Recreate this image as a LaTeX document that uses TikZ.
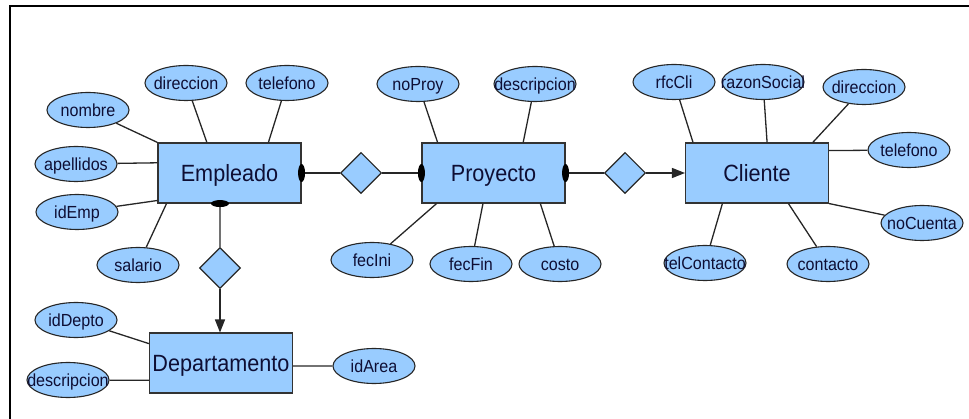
\documentclass[tikz,border=0pt]{standalone}
\usepackage{fontspec}
\setmainfont{Liberation Sans}[FakeStretch=0.92]
\usetikzlibrary{shapes.geometric,arrows.meta,calc}
\definecolor{erfill}{RGB}{153,204,255}
\definecolor{ertext}{RGB}{14,14,52}
\newcommand{\atxt}[1]{\makebox[0pt]{#1}}
\tikzset{
  entity/.style={draw=black!80, line width=1.1pt, fill=erfill, minimum width=143pt,
    minimum height=60pt, inner sep=0pt, text=ertext, font=\fontsize{23.5}{26}\selectfont,
    text height=17pt, text depth=0pt},
  attrib/.style={ellipse, draw=black!85, line width=1.1pt, fill=erfill, minimum width=82pt,
    minimum height=35pt, inner sep=0pt, text=ertext, font=\fontsize{17.5}{20}\selectfont,
    text height=12.5pt, text depth=0pt},
  relation/.style={diamond, draw=black!85, line width=1.1pt, fill=erfill, minimum width=41pt,
    minimum height=41pt, inner sep=0pt, aspect=1},
  link/.style={draw=black!85, line width=1.3pt},
  arrowlink/.style={link, -{Triangle[length=13pt,width=10pt]}},
  marker/.style={fill=black}
}
\begin{document}
\begin{tikzpicture}[x=1pt,y=-1pt]
\useasboundingbox (0,0) rectangle (969,419);
% outer frame (top and left edges)
\draw[line width=2pt] (969,6.5) -- (9.5,6.5) -- (9.5,419);

% entities
\node[entity] (emp) at (229.5,173) {Empleado};
\node[entity] (proj) at (493.5,173) {Proyecto};
\node[entity] (cli) at (757,173) {Cliente};
\node[entity] (dep) at (221,363) {Departamento};

% relationships
\node[relation] (r1) at (361,173) {};
\node[relation] (r2) at (625,173) {};
\node[relation] (r3) at (220,268) {};

% attributes of Empleado
\node[attrib] (eDir) at (186,83) {\atxt{direccion}};
\node[attrib] (eTel) at (287,83) {\atxt{telefono}};
\node[attrib] (eNom) at (88,110) {\atxt{nombre}};
\node[attrib] (eApe) at (76,164) {\atxt{apellidos}};
\node[attrib] (eId) at (77,212) {\atxt{idEmp}};
\node[attrib] (eSal) at (138,265) {\atxt{salario}};

% attributes of Proyecto
\node[attrib] (pNo) at (418,84) {\atxt{noProy}};
\node[attrib] (pDesc) at (535,84) {\atxt{descripcion}};
\node[attrib] (pIni) at (372,260) {\atxt{fecIni}};
\node[attrib] (pFin) at (471,264) {\atxt{fecFin}};
\node[attrib] (pCos) at (560,264) {\atxt{costo}};

% attributes of Cliente
\node[attrib] (cRfc) at (674,82) {\atxt{rfcCli}};
\node[attrib] (cRaz) at (763,82) {\atxt{razonSocial}};
\node[attrib] (cDir) at (864,87) {\atxt{direccion}};
\node[attrib] (cTel) at (909,150) {\atxt{telefono}};
\node[attrib] (cCta) at (922,223) {\atxt{noCuenta}};
\node[attrib] (cTc) at (705,263) {\atxt{telContacto}};
\node[attrib] (cCon) at (828,264) {\atxt{contacto}};

% attributes of Departamento
\node[attrib] (dId) at (76,320) {\atxt{idDepto}};
\node[attrib] (dDesc) at (68,380) {\atxt{descripcion}};
\node[attrib] (dArea) at (374,366) {\atxt{idArea}};

% attribute links: Empleado
\draw[link] (eNom) -- (emp.north west);
\draw[link] (eDir) -- ($(emp.north west)!0.343!(emp.north east)$);
\draw[link] (eTel) -- ($(emp.north west)!0.77!(emp.north east)$);
\draw[link] (eApe) -- ($(emp.north west)!0.333!(emp.south west)$);
\draw[link] (eId) -- ($(emp.north west)!0.95!(emp.south west)$);
\draw[link] (eSal) -- ($(emp.south west)!0.063!(emp.south east)$);

% attribute links: Proyecto
\draw[link] (pNo) -- ($(proj.north west)!0.112!(proj.north east)$);
\draw[link] (pDesc) -- ($(proj.north west)!0.706!(proj.north east)$);
\draw[link] (pIni) -- ($(proj.south west)!0.105!(proj.south east)$);
\draw[link] (pFin) -- ($(proj.south west)!0.427!(proj.south east)$);
\draw[link] (pCos) -- ($(proj.south west)!0.825!(proj.south east)$);

% attribute links: Cliente
\draw[link] (cRfc) -- ($(cli.north west)!0.056!(cli.north east)$);
\draw[link] (cRaz) -- ($(cli.north west)!0.57!(cli.north east)$);
\draw[link] (cDir) -- ($(cli.north west)!0.887!(cli.north east)$);
\draw[link] (cTel) -- ($(cli.north east)!0.133!(cli.south east)$);
\draw[link] (cCta) -- (cli.south east);
\draw[link] (cTc) -- ($(cli.south west)!0.26!(cli.south east)$);
\draw[link] (cCon) -- ($(cli.south west)!0.718!(cli.south east)$);

% attribute links: Departamento
\draw[link] (dId) -- ($(dep.north west)!0.183!(dep.south west)$);
\draw[link] (dDesc) -- ($(dep.north west)!0.783!(dep.south west)$);
\draw[link] (dArea) -- ($(dep.north east)!0.55!(dep.south east)$);

% relationship links
\coordinate (empBottom) at ($(emp.south west)!0.434!(emp.south east)$);
\draw[link] (emp.east) -- (r1) -- (proj.west);
\draw[link] (proj.east) -- (r2);
\draw[arrowlink] (r2) -- (cli.west);
\draw[link] (empBottom) -- (r3);
\draw[arrowlink] (r3) -- (r3 |- dep.north);

% participation markers
\fill[marker] (emp.east) ellipse [x radius=3.5pt, y radius=9pt];
\fill[marker] (proj.west) ellipse [x radius=3.5pt, y radius=9pt];
\fill[marker] (proj.east) ellipse [x radius=3.5pt, y radius=9pt];
\fill[marker] (empBottom) ellipse [x radius=9pt, y radius=3.5pt];
\end{tikzpicture}
\end{document}
